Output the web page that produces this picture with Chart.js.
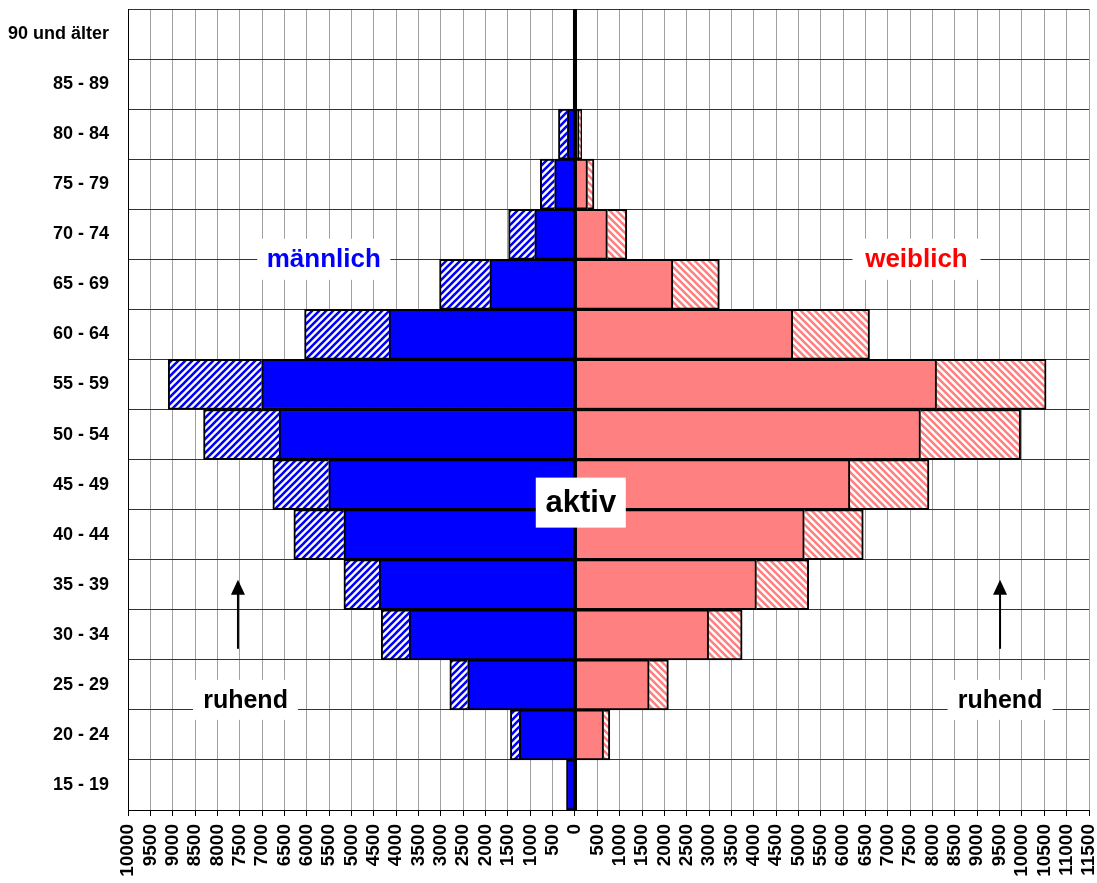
<!DOCTYPE html>
<html>
<head>
<meta charset="utf-8">
<script src="https://cdn.jsdelivr.net/npm/chart.js@4/dist/chart.umd.min.js"></script>
<style>
  html, body { margin: 0; padding: 0; background: #fff; }
  #wrap { width: 1097px; height: 883px; }
</style>
</head>
<body>
<div id="wrap"><canvas id="pyramid" width="1097" height="883"></canvas></div>
<script>
// Altersgruppen von oben nach unten
const ageGroups = ["90 und älter", "85 - 89", "80 - 84", "75 - 79", "70 - 74", "65 - 69", "60 - 64", "55 - 59",
                   "50 - 54", "45 - 49", "40 - 44", "35 - 39", "30 - 34", "25 - 29", "20 - 24", "15 - 19"];

// männlich (positiv gespeichert, links gezeichnet)
const maleActive  = [0, 40, 170, 455, 900, 1905, 4160, 7010, 6620, 5510, 5170, 4380, 3710, 2400, 1245, 190];
const maleResting = [0, 0, 200, 320, 585, 1125, 1890, 2090, 1690, 1250, 1120, 790, 625, 400, 200, 0];

// weiblich
const femaleActive  = [0, 40, 90, 280, 725, 2190, 4870, 8090, 7730, 6150, 5130, 4060, 2990, 1660, 640, 40];
const femaleResting = [0, 0, 60, 145, 435, 1040, 1720, 2450, 2240, 1770, 1320, 1170, 750, 430, 140, 0];

// x-Achse
const xMin = -10000, xMax = 11500, xStep = 500;

const BLUE = '#0000ff', PINK = '#ff8080';

function hatch(color, dir) {
    const s = 7;
    const c = document.createElement('canvas');
    c.width = c.height = s;
    const g = c.getContext('2d');
    g.fillStyle = '#fff';
    g.fillRect(0, 0, s, s);
    g.strokeStyle = color;
    g.lineWidth = 2.6;
    g.beginPath();
    if (dir > 0) {
        g.moveTo(-2, s + 2); g.lineTo(s + 2, -2);
        g.moveTo(-2, 2); g.lineTo(2, -2);
        g.moveTo(s - 2, s + 2); g.lineTo(s + 2, s - 2);
    } else {
        g.moveTo(-2, -2); g.lineTo(s + 2, s + 2);
        g.moveTo(-2, s - 2); g.lineTo(2, s + 2);
        g.moveTo(s - 2, -2); g.lineTo(s + 2, 2);
    }
    g.stroke();
    return g.createPattern(c, 'repeat');
}

const ctx = document.getElementById('pyramid');

// Texte und Pfeile
const notes = [
    { text: 'männlich', color: BLUE, x: -5620, y: 4.5, size: 26, boxW: 133, boxH: 41 },
    { text: 'weiblich', color: '#ff0000', x: 7640, y: 4.5, size: 26, boxW: 128, boxH: 41 },
    { text: 'aktiv', color: '#000', x: 130, y: 9.36, size: 31, boxW: 90, boxH: 50 },
    { text: 'ruhend', color: '#000', x: -7370, y: 13.3, size: 25, boxW: 105, boxH: 40 },
    { text: 'ruhend', color: '#000', x: 9510, y: 13.3, size: 25, boxW: 105, boxH: 40 }
];
const arrows = [
    { x: -7540, from: 12.28, to: 10.9 },
    { x: 9510, from: 12.28, to: 10.9 }
];

const extras = {
    id: 'extras',
    afterDatasetsDraw(chart) {
        const c = chart.ctx, xs = chart.scales.x, ys = chart.scales.y, a = chart.chartArea;
        // dicke Nulllinie
        const x0 = xs.getPixelForValue(0);
        c.save();
        c.strokeStyle = '#000';
        c.lineWidth = 4;
        c.beginPath();
        c.moveTo(x0, a.top);
        c.lineTo(x0, a.bottom);
        c.stroke();

        notes.forEach(n => {
            const px = xs.getPixelForValue(n.x), py = ys.getPixelForValue(n.y);
            c.fillStyle = '#fff';
            c.fillRect(px - n.boxW / 2, py - n.boxH / 2, n.boxW, n.boxH);
            c.fillStyle = n.color;
            c.font = 'bold ' + n.size + 'px "Liberation Sans", Arial, sans-serif';
            c.textAlign = 'center';
            c.textBaseline = 'middle';
            c.fillText(n.text, px, py + 1);
        });

        arrows.forEach(ar => {
            const px = xs.getPixelForValue(ar.x);
            const yb = ys.getPixelForValue(ar.from), yt = ys.getPixelForValue(ar.to);
            c.strokeStyle = '#000';
            c.lineWidth = 2;
            c.beginPath();
            c.moveTo(px, yb);
            c.lineTo(px, yt + 12);
            c.stroke();
            c.fillStyle = '#000';
            c.beginPath();
            c.moveTo(px, yt);
            c.lineTo(px - 7, yt + 15);
            c.lineTo(px + 7, yt + 15);
            c.closePath();
            c.fill();
        });
        c.restore();
    }
};

new Chart(ctx, {
    type: 'bar',
    data: {
        labels: ageGroups,
        datasets: [
            { label: 'männlich aktiv', data: maleActive.map(v => -v), backgroundColor: BLUE },
            { label: 'männlich ruhend', data: maleResting.map(v => -v), backgroundColor: hatch(BLUE, 1) },
            { label: 'weiblich aktiv', data: femaleActive, backgroundColor: PINK },
            { label: 'weiblich ruhend', data: femaleResting, backgroundColor: hatch(PINK, -1) }
        ]
    },
    options: {
        indexAxis: 'y',
        responsive: false,
        animation: false,
        devicePixelRatio: 1,
        layout: { padding: { top: 9, right: 8, left: 0, bottom: 0 } },
        datasets: {
            bar: {
                barPercentage: 1,
                categoryPercentage: 1,
                borderColor: '#000',
                borderWidth: 2,
                stack: 'all'
            }
        },
        plugins: {
            legend: { display: false },
            tooltip: { enabled: false }
        },
        scales: {
            x: {
                stacked: true,
                min: xMin,
                max: xMax,
                border: { color: '#000', width: 1 },
                grid: { color: '#a0a0a0', lineWidth: 1, tickLength: 6, tickColor: '#000' },
                ticks: {
                    stepSize: xStep,
                    autoSkip: false,
                    minRotation: 90,
                    maxRotation: 90,
                    padding: 8,
                    color: '#000',
                    font: { family: '"Liberation Sans", Arial, sans-serif', size: 19, weight: 'bold' },
                    callback: v => String(Math.abs(v))
                },
                afterFit: s => { s.height = 73; s.paddingRight = 0; s.paddingLeft = 0; }
            },
            y: {
                stacked: true,
                border: { color: '#000', width: 1 },
                grid: { color: '#333', lineWidth: 1, drawTicks: false },
                ticks: {
                    padding: 19,
                    color: '#000',
                    font: { family: '"Liberation Sans", Arial, sans-serif', size: 18, weight: 'bold' }
                },
                afterFit: s => { s.width = 128; s.paddingTop = 0; s.paddingBottom = 0; }
            }
        }
    },
    plugins: [extras]
});
</script>
</body>
</html>
